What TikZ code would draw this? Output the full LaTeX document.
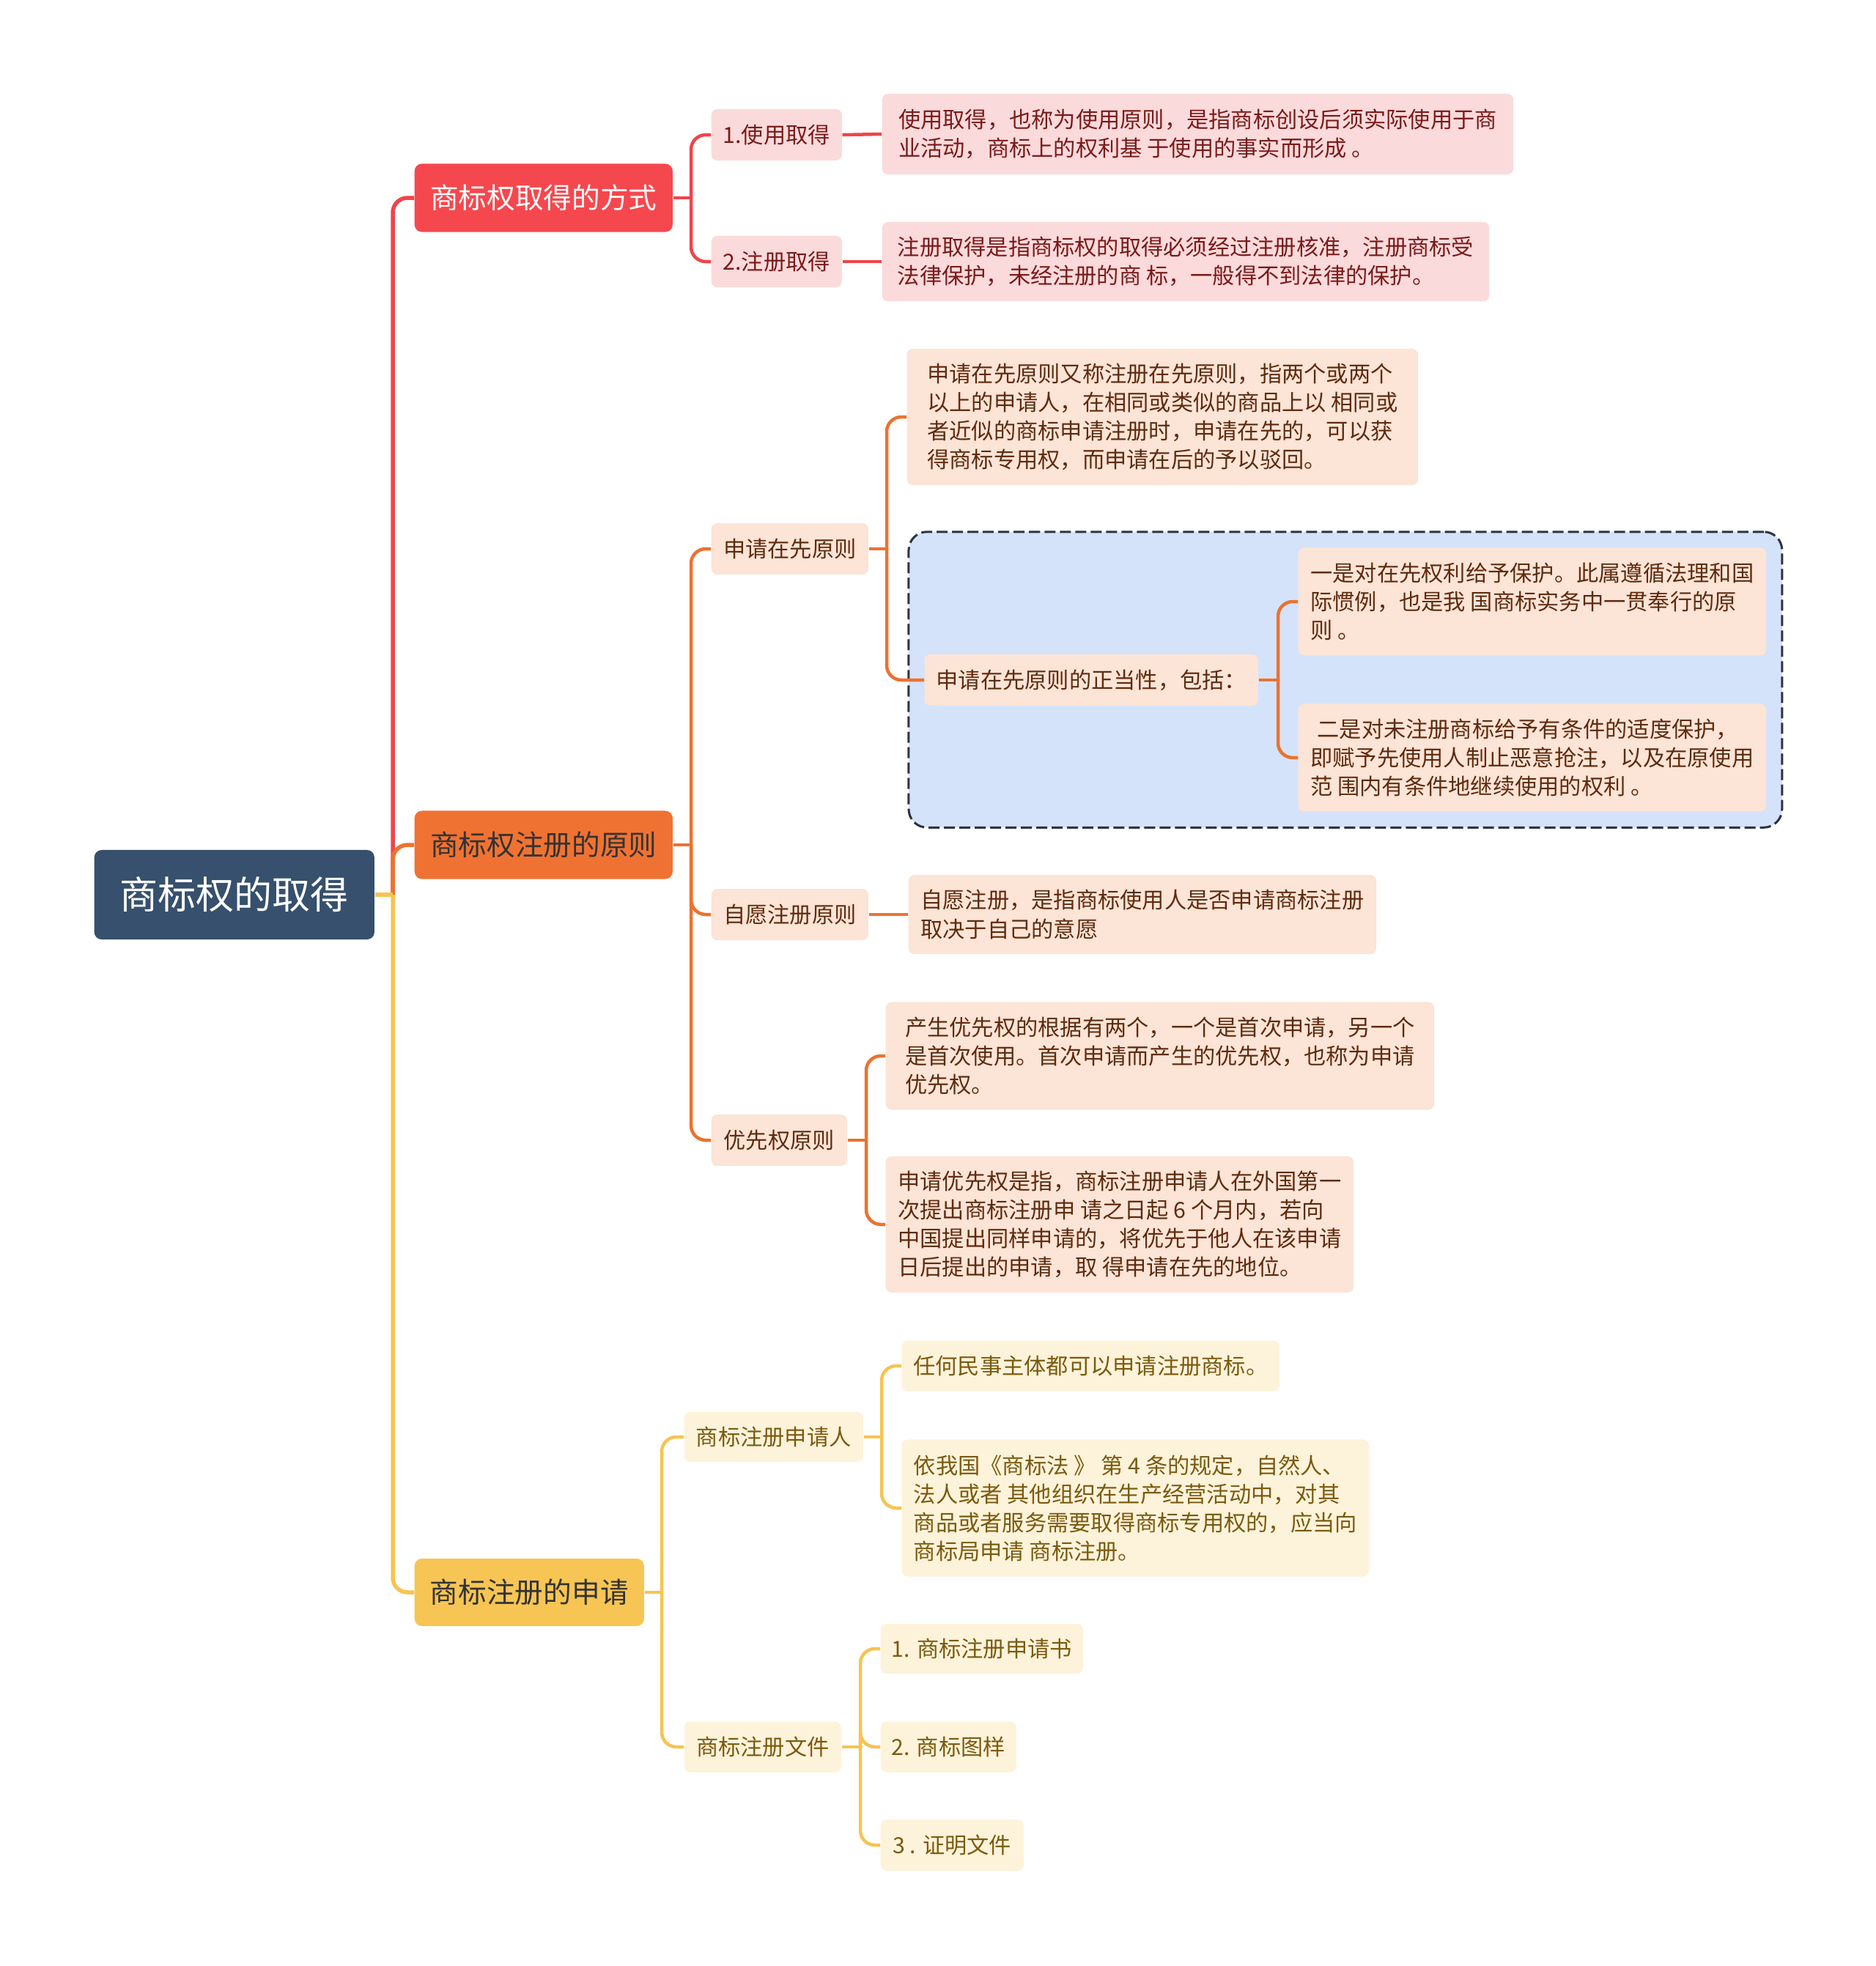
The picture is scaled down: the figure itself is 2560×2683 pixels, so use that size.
\documentclass[tikz,border=0pt]{standalone}
\usepackage{fontspec}
\setmainfont{Noto Sans CJK SC}
\usetikzlibrary{fit, backgrounds}

\definecolor{rootblue}{HTML}{36506D}
\definecolor{redmain}{HTML}{F5484E}
\definecolor{redline}{HTML}{EF454B}
\definecolor{redlight}{HTML}{FBDADB}
\definecolor{redtext}{HTML}{7A1A1A}
\definecolor{orgmain}{HTML}{F07232}
\definecolor{orgline}{HTML}{EC722F}
\definecolor{orglight}{HTML}{FCE4D6}
\definecolor{orgtext}{HTML}{5E2B0F}
\definecolor{yelmain}{HTML}{F7C553}
\definecolor{yelline}{HTML}{F5C452}
\definecolor{yellight}{HTML}{FDF3DA}
\definecolor{yeltext}{HTML}{7B5A0F}
\definecolor{boundfill}{HTML}{D4E3FA}
\definecolor{boundline}{HTML}{2D3440}

\begin{document}
\begin{tikzpicture}[
  x=0.01cm, y=-0.01cm,
  box/.style={rounded corners=0.08cm, anchor=west, inner sep=0pt, align=left, font=\fontsize{8.6}{11.1}\selectfont},
  rootbox/.style={box, rounded corners=0.1cm, fill=rootblue, text=white, font=\fontsize{14.8}{18}\selectfont},
  topbox/.style={box, rounded corners=0.1cm, font=\fontsize{11}{13}\selectfont},
  redleaf/.style={box, fill=redlight, text=redtext},
  orgleaf/.style={box, fill=orglight, text=orgtext},
  yelleaf/.style={box, fill=yellight, text=yeltext},
  link/.style={line width=0.045cm, rounded corners=0.2cm},
  toplink/.style={link, line width=0.055cm},
  bound/.style={draw=boundline, fill=boundfill, dash pattern=on 0.15cm off 0.06cm, line width=0.03cm, rounded corners=0.25cm, inner sep=0.21cm}
]
\useasboundingbox (0,0) rectangle (2560,2683);

\node[rootbox, minimum width=3.82cm, minimum height=1.22cm] (root) at (128,1221) {商标权的取得};

\node[topbox, fill=redmain, text=white, minimum width=3.52cm, minimum height=0.93cm] (mode) at (565,270) {商标权取得的方式};
\node[redleaf, minimum width=1.78cm, minimum height=0.70cm] (use) at (970,184) {1.使用取得};
\node[redleaf, minimum width=1.78cm, minimum height=0.70cm] (reg) at (970,357) {2.注册取得};
\node[redleaf, minimum width=8.61cm, minimum height=1.10cm] (useleaf) at (1203,183) {使用取得，也称为使用原则，是指商标创设后须实际使用于商\\业活动，商标上的权利基 于使用的事实而形成 。};
\node[redleaf, minimum width=8.28cm, minimum height=1.08cm] (regleaf) at (1203,357) {注册取得是指商标权的取得必须经过注册核准，注册商标受\\法律保护，未经注册的商 标，一般得不到法律的保护。};

\node[topbox, fill=orgmain, text=black!80, minimum width=3.52cm, minimum height=0.93cm] (rule) at (565,1153) {商标权注册的原则};
\node[orgleaf, minimum width=2.14cm, minimum height=0.70cm] (first) at (970,749) {申请在先原则};
\node[orgleaf, minimum width=6.97cm, minimum height=1.86cm] (firstleaf) at (1237,569) {申请在先原则又称注册在先原则，指两个或两个\\以上的申请人，在相同或类似的商品上以 相同或\\者近似的商标申请注册时，申请在先的，可以获\\得商标专用权，而申请在后的予以驳回。};
\node[orgleaf, minimum width=4.55cm, minimum height=0.70cm] (just) at (1261,928) {申请在先原则的正当性，包括：};
\node[orgleaf, minimum width=6.38cm, minimum height=1.47cm] (why1) at (1771,821) {一是对在先权利给予保护。此属遵循法理和国\\际惯例，也是我 国商标实务中一贯奉行的原\\则 。};
\node[orgleaf, minimum width=6.38cm, minimum height=1.47cm] (why2) at (1771,1034) {\hspace{0.3em}二是对未注册商标给予有条件的适度保护，\\即赋予先使用人制止恶意抢注，以及在原使用\\范 围内有条件地继续使用的权利 。};
\node[orgleaf, minimum width=2.14cm, minimum height=0.70cm] (vol) at (970,1248) {自愿注册原则};
\node[orgleaf, minimum width=6.38cm, minimum height=1.08cm] (volleaf) at (1239,1248) {自愿注册，是指商标使用人是否申请商标注册\\取决于自己的意愿};
\node[orgleaf, minimum width=1.85cm, minimum height=0.70cm] (prio) at (970,1556) {优先权原则};
\node[orgleaf, minimum width=7.48cm, minimum height=1.47cm] (prioleaf1) at (1208,1441) {产生优先权的根据有两个，一个是首次申请，另一个\\是首次使用。首次申请而产生的优先权，也称为申请\\优先权。};
\node[orgleaf, minimum width=6.38cm, minimum height=1.86cm] (prioleaf2) at (1208,1671) {申请优先权是指，商标注册申请人在外国第一\\次提出商标注册申 请之日起 6 个月内，若向\\中国提出同样申请的，将优先于他人在该申请\\日后提出的申请，取 得申请在先的地位。};

\node[topbox, fill=yelmain, text=black!80, minimum width=3.13cm, minimum height=0.92cm] (apply) at (565,2173) {商标注册的申请};
\node[yelleaf, minimum width=2.44cm, minimum height=0.68cm] (who) at (933,1961) {商标注册申请人};
\node[yelleaf, minimum width=2.14cm, minimum height=0.69cm] (docs) at (933,2384) {商标注册文件};
\node[yelleaf, minimum width=5.15cm, minimum height=0.69cm] (who1) at (1230,1864) {任何民事主体都可以申请注册商标。};
\node[yelleaf, minimum width=6.37cm, minimum height=1.87cm] (who2) at (1230,2058) {依我国《商标法 》 第 4 条的规定，自然人、\\法人或者 其他组织在生产经营活动中，对其\\商品或者服务需要取得商标专用权的，应当向\\商标局申请 商标注册。};
\node[yelleaf, minimum width=2.76cm, minimum height=0.68cm] (doc1) at (1201,2250) {1. 商标注册申请书};
\node[yelleaf, minimum width=1.85cm, minimum height=0.69cm] (doc2) at (1201,2384) {2. 商标图样};
\node[yelleaf, minimum width=1.95cm, minimum height=0.70cm] (doc3) at (1201,2518) {3 . 证明文件};

\begin{scope}[on background layer]
\node[bound, fit=(just)(why1)(why2)] (pbox) {};
\end{scope}

\coordinate (jroot) at (536,1221);
\coordinate (jmode) at (943,270);
\coordinate (jrule) at (943,1153);
\coordinate (jfirst) at (1210,749);
\coordinate (jjust) at (1744,928);
\coordinate (jprio) at (1182,1556);
\coordinate (japply) at (903,2173);
\coordinate (jwho) at (1203,1961);
\coordinate (jdocs) at (1174,2384);

\draw[toplink, redline] (jroot) |- (mode.west);
\draw[toplink, orgline] (jroot) |- (rule.west);
\draw[toplink, yelline] (jroot) |- (apply.west);
\draw[toplink, yelline] (root.east) -- (jroot);

\draw[link, redline] (mode.east) -- (jmode);
\draw[link, redline] (jmode) |- (use.west);
\draw[link, redline] (jmode) |- (reg.west);
\draw[link, redline] (use.east) -- (useleaf.west);
\draw[link, redline] (reg.east) -- (regleaf.west);

\draw[link, orgline] (rule.east) -- (jrule);
\draw[link, orgline] (jrule) |- (first.west);
\draw[link, orgline] (jrule) |- (vol.west);
\draw[link, orgline] (jrule) |- (prio.west);
\draw[link, orgline] (first.east) -- (jfirst);
\draw[link, orgline] (jfirst) |- (firstleaf.west);
\draw[link, orgline] (jfirst) |- (just.west);
\draw[link, orgline] (just.east) -- (jjust);
\draw[link, orgline] (jjust) |- (why1.west);
\draw[link, orgline] (jjust) |- (why2.west);
\draw[link, orgline] (vol.east) -- (volleaf.west);
\draw[link, orgline] (prio.east) -- (jprio);
\draw[link, orgline] (jprio) |- (prioleaf1.west);
\draw[link, orgline] (jprio) |- (prioleaf2.west);

\draw[link, yelline] (apply.east) -- (japply);
\draw[link, yelline] (japply) |- (who.west);
\draw[link, yelline] (japply) |- (docs.west);
\draw[link, yelline] (who.east) -- (jwho);
\draw[link, yelline] (jwho) |- (who1.west);
\draw[link, yelline] (jwho) |- (who2.west);
\draw[link, yelline] (docs.east) -- (jdocs);
\draw[link, yelline] (jdocs) |- (doc1.west);
\draw[link, yelline] (jdocs) |- (doc2.west);
\draw[link, yelline] (jdocs) |- (doc3.west);
\end{tikzpicture}
\end{document}
